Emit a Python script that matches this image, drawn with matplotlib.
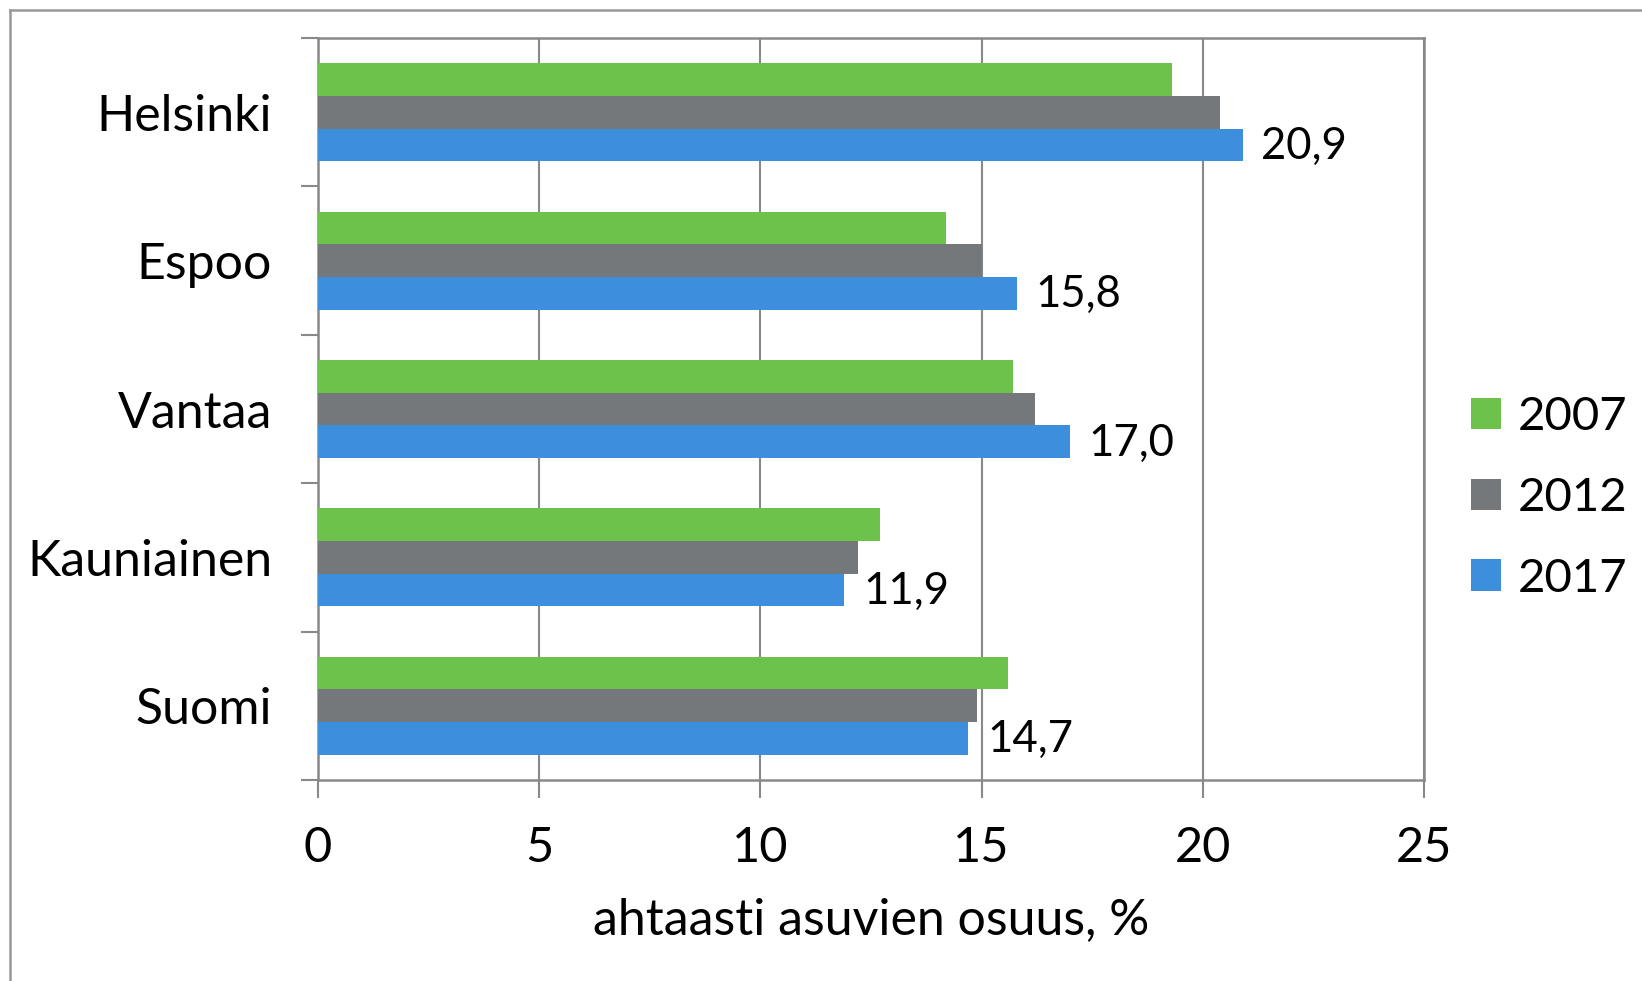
import matplotlib.pyplot as plt
from matplotlib.lines import Line2D
import numpy as np

cities = ["Helsinki", "Espoo", "Vantaa", "Kauniainen", "Suomi"]
years = ["2007", "2012", "2017"]
v2007 = [19.3, 14.2, 15.7, 12.7, 15.6]
v2012 = [20.4, 15.0, 16.2, 12.2, 14.9]
v2017 = [20.9, 15.8, 17.0, 11.9, 14.7]
labels2017 = ["20,9", "15,8", "17,0", "11,9", "14,7"]
colors = ["#6cc24a", "#75787b", "#3d8fdd"]

plt.rcParams['font.family'] = ['Lato', 'DejaVu Sans']

fig = plt.figure(figsize=(16.42, 9.81), dpi=100)
ax = fig.add_axes([318/1642, 1-780/981, (1424-318)/1642, (780-38)/981])

y = np.arange(len(cities))
h = 0.22
for k, (vals, c, yr) in enumerate(zip([v2007, v2012, v2017], colors, years)):
    ax.barh(y + (k-1)*h, vals, height=h, color=c, label=yr, zorder=3)

# data labels for 2017 only
for yi, val, lab in zip(y, v2017, labels2017):
    ax.text(val + 0.42, yi + h + 0.01, lab, va='center', ha='left', fontsize=31.5)

ax.set_xlim(0, 25)
ax.set_ylim(len(cities) - 0.5, -0.5)
ax.set_xticks([0, 5, 10, 15, 20, 25])
ax.set_xticklabels(["0", "5", "10", "15", "20", "25"], fontsize=35)
ax.set_yticks(y)
ax.set_yticklabels(cities, fontsize=36)
ax.tick_params(axis='y', length=0, pad=33)
ax.set_yticks(np.arange(-0.5, len(cities)), minor=True)
ax.tick_params(axis='y', which='minor', length=12, width=1.5, color='#898989')
ax.tick_params(axis='x', length=13, width=1.5, color='#898989', pad=20)
ax.grid(axis='x', color='#898989', linewidth=1.5, zorder=0)
for s in ax.spines.values():
    s.set_color('#898989')
    s.set_linewidth(1.8)
ax.set_xlabel("ahtaasti asuvien osuus, %", fontsize=36, labelpad=20)

leg = ax.legend(loc='center left', bbox_to_anchor=(1.025, 0.38), frameon=False,
                fontsize=34, handlelength=0.65, handleheight=0.65,
                labelspacing=0.82, handletextpad=0.35, borderaxespad=0)

# outer frame (only left and top edges visible)
fig.add_artist(Line2D([10/1642, 10/1642], [0, 1-10/981], color='#999999', lw=1.8))
fig.add_artist(Line2D([10/1642, 1], [1-10/981, 1-10/981], color='#999999', lw=1.8))

fig.savefig("out.png", dpi=100)
